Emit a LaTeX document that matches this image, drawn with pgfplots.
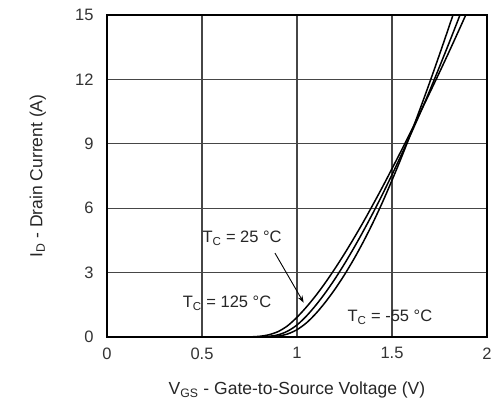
\documentclass[border=0pt]{standalone}
\usepackage{pgfplots}
\pgfplotsset{compat=1.18}
\usepackage{fontspec}
\setmainfont{Liberation Sans}
\usetikzlibrary{arrows.meta}
\definecolor{gridc}{RGB}{70,70,70}
\begin{document}
\begin{tikzpicture}
\begin{axis}[
  scale only axis,
  width=380pt, height=322pt,
  xmin=0, xmax=2, ymin=0, ymax=15,
  xtick={0,0.5,1,1.5,2},
  xticklabels={0,0.5,1,1.5,2},
  ytick={0,3,6,9,12,15},
  grid=major,
  major grid style={gridc, line width=1.1pt},
  axis line style={black, line width=1.4pt},
  major tick length=0pt,
  /pgf/number format/assume math mode=true,
  tick label style={font=\fontsize{16.5}{18}\selectfont, text=black!80},
  yticklabel style={xshift=-10pt},
  xticklabel style={yshift=-7pt},
  label style={font=\fontsize{17.5}{19}\selectfont, text=black!85},
  xlabel={V\textsubscript{GS} - Gate-to-Source Voltage (V)},
  ylabel={I\textsubscript{D} - Drain Current (A)},
  xlabel style={at={(axis description cs:0.5,-0.165)}, anchor=center},
  ylabel style={at={(axis description cs:-0.182,0.5)}, anchor=center},
]
\coordinate (sw) at (rel axis cs:0,0);
\coordinate (ne) at (rel axis cs:1,1);
% T_C = 125 C
\addplot[black, line width=1.5pt, smooth] coordinates {
(0,0) (0.65,0) (0.70,0.001) (0.75,0.005) (0.80,0.03) (0.85,0.1) (0.90,0.25)
(0.95,0.52) (1.00,0.92) (1.05,1.40) (1.10,1.94) (1.15,2.54) (1.20,3.19)
(1.25,3.88) (1.30,4.61) (1.35,5.37) (1.40,6.17) (1.45,6.99) (1.50,7.84)
(1.55,8.70) (1.60,9.58) (1.65,10.48) (1.70,11.40) (1.75,12.33) (1.80,13.28)
(1.85,14.25) (1.90,15.23) (1.95,16.2)};
% T_C = 25 C
\addplot[black, line width=1.5pt, smooth] coordinates {
(0,0) (0.72,0) (0.75,0.001) (0.80,0.005) (0.85,0.03) (0.90,0.10) (0.95,0.27)
(1.00,0.56) (1.05,0.98) (1.10,1.49) (1.15,2.07) (1.20,2.71) (1.25,3.41)
(1.30,4.16) (1.35,4.95) (1.40,5.78) (1.45,6.65) (1.50,7.56) (1.55,8.50)
(1.60,9.47) (1.65,10.47) (1.70,11.51) (1.75,12.59) (1.80,13.69) (1.85,14.82)
(1.90,15.97)};
% T_C = -55 C
\addplot[black, line width=1.5pt, smooth] coordinates {
(0,0) (0.78,0) (0.80,0.001) (0.85,0.005) (0.90,0.04) (0.95,0.14) (1.00,0.34)
(1.05,0.66) (1.10,1.10) (1.15,1.63) (1.20,2.23) (1.25,2.90) (1.30,3.64)
(1.35,4.45) (1.40,5.33) (1.45,6.28) (1.50,7.30) (1.55,8.37) (1.60,9.50)
(1.65,10.68) (1.70,11.90) (1.75,13.16) (1.80,14.45) (1.85,15.77)};
\node[font=\fontsize{16.5}{18}\selectfont, text=black!85] at (axis cs:0.711,4.61) {T\textsubscript{C} = 25 °C};
\node[font=\fontsize{16.5}{18}\selectfont, text=black!85] at (axis cs:0.632,1.58) {T\textsubscript{C} = 125 °C};
\node[font=\fontsize{16.5}{18}\selectfont, text=black!85] at (axis cs:1.489,0.93) {T\textsubscript{C} = -55 °C};
\draw[black, line width=0.9pt, -{Stealth[length=7pt,width=5pt]}] (axis cs:0.884,3.91) -- (axis cs:1.035,1.6);
\end{axis}
\path (sw) ++(-107pt,-64pt) rectangle ([shift={(8pt,15pt)}]ne);
\end{tikzpicture}
\end{document}
